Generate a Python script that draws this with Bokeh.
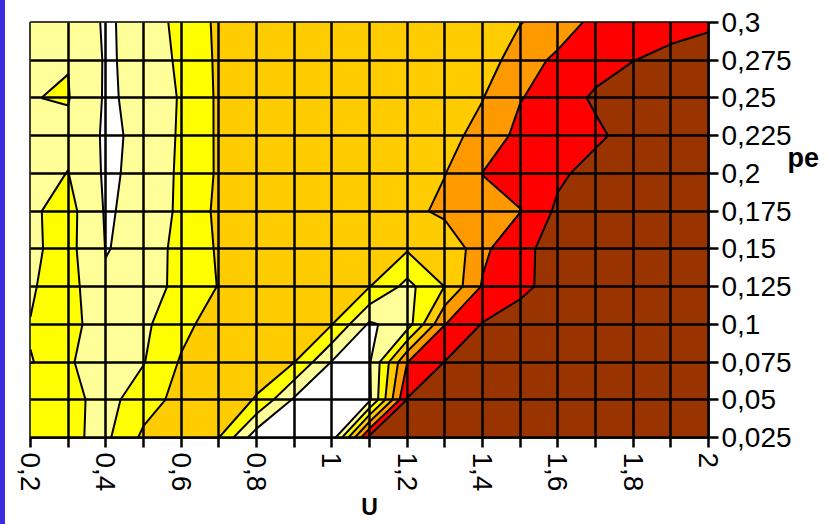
import numpy as np
from bokeh.plotting import figure
from bokeh.models import Range1d, FixedTicker, LinearAxis, Div
from bokeh.layouts import row
from bokeh.embed import file_html
from bokeh.resources import INLINE

# ---- data -------------------------------------------------------------
u_values = [0.2, 0.3, 0.4, 0.5, 0.6, 0.7, 0.8, 0.9, 1.0, 1.1, 1.2, 1.3, 1.4,
            1.5, 1.6, 1.7, 1.8, 1.9, 2.0]
pe_values = [0.025, 0.05, 0.075, 0.1, 0.125, 0.15, 0.175, 0.2, 0.225, 0.25,
             0.275, 0.3]

# surface values, one list per pe row (u = 0.2 ... 2.0)
z_pe_0025 = [2.4, 2.15, 1.8, 3.2, 3.4, 3.02, 0.4, 0.3, 0.4, 6.3, 6.8, 7.0, 7.2, 7.3, 7.4, 7.5, 7.5, 7.6, 7.6]
z_pe_0050 = [2.3, 2.3, 1.65, 2.55, 3.33, 3.4, 2.95, 0.85, 0.5, 0.8, 6.05, 6.5, 6.9, 7.1, 7.3, 7.4, 7.5, 7.5, 7.6]
z_pe_0075 = [1.99, 2.1, 1.51, 1.95, 3.1, 3.5, 3.3, 3.03, 0.95, 0.9, 4.98, 6.02, 6.6, 6.9, 7.1, 7.3, 7.4, 7.5, 7.5]
z_pe_0100 = [2.02, 2.3, 1.51, 1.8, 2.7, 3.5, 3.5, 3.3, 3.03, 0.85, 1.5, 4.98, 6.05, 6.6, 6.9, 7.1, 7.3, 7.4, 7.5]
z_pe_0125 = [1.92, 2.4, 1.1, 1.75, 2.15, 3.05, 3.5, 3.4, 3.2, 3.03, 1.7, 3.02, 5.1, 5.7, 6.5, 6.9, 7.1, 7.3, 7.4]
z_pe_0150 = [1.85, 2.3, 0.97, 1.21, 2.44, 3.09, 3.5, 3.5, 3.4, 3.4, 3.1, 3.02, 4.77, 5.8, 6.3, 6.8, 7.0, 7.2, 7.3]
z_pe_0175 = [1.85, 2.35, 0.9, 1.28, 2.21, 3.22, 3.5, 3.6, 3.6, 3.6, 3.6, 4.3, 4.6, 4.97, 6.2, 6.7, 7.0, 7.1, 7.2]
z_pe_0200 = [1.7, 2.02, 0.85, 1.23, 2.19, 3.13, 3.5, 3.6, 3.6, 3.6, 3.7, 3.97, 5.02, 5.4, 5.8, 6.4, 6.8, 7.0, 7.1]
z_pe_0225 = [1.6, 1.8, 0.85, 1.17, 2.15, 3.14, 3.5, 3.5, 3.5, 3.5, 3.6, 3.7, 4.3, 5.3, 5.6, 5.8, 6.4, 6.8, 7.0]
z_pe_0250 = [1.98, 2.05, 0.88, 1.23, 2.1, 3.15, 3.5, 3.5, 3.5, 3.5, 3.5, 3.6, 3.97, 4.95, 5.5, 6.15, 6.6, 6.9, 7.0]
z_pe_0275 = [1.7, 1.97, 0.9, 1.24, 2.23, 3.16, 3.5, 3.5, 3.5, 3.5, 3.5, 3.5, 3.7, 4.3, 5.3, 5.6, 5.98, 6.3, 6.57]
z_pe_0300 = [1.6, 1.4, 0.93, 1.19, 2.42, 3.16, 3.4, 3.4, 3.4, 3.4, 3.4, 3.4, 3.5, 3.98, 4.23, 5.4, 5.5, 5.6, 5.8]

band_levels = [0, 1, 2, 3, 4, 5, 6, 8]
band_colors = ["#FFFFFF", "#FFFF99", "#FFFF00", "#FFCC00", "#FF9900", "#FF0000", "#993300"]

x_ticks = u_values
x_tick_labels = ["0,2", "", "0,4", "", "0,6", "", "0,8", "", "1", "", "1,2", "",
                 "1,4", "", "1,6", "", "1,8", "", "2"]
y_ticks = pe_values
y_tick_labels = ["0,025", "0,05", "0,075", "0,1", "0,125", "0,15", "0,175",
                 "0,2", "0,225", "0,25", "0,275", "0,3"]

x_title = "U"
y_title = "pe"

# ---- figure -----------------------------------------------------------
Z = np.array([z_pe_0025, z_pe_0050, z_pe_0075, z_pe_0100, z_pe_0125, z_pe_0150,
              z_pe_0175, z_pe_0200, z_pe_0225, z_pe_0250, z_pe_0275, z_pe_0300])

FONT = "Liberation Sans"
W, H = 830, 524
L, R, T, B = 25, 127, 22, 87

p = figure(width=W, height=H, output_backend="svg", toolbar_location=None,
           x_range=Range1d(u_values[0], u_values[-1]),
           y_range=Range1d(pe_values[0], pe_values[-1]),
           y_axis_location="right",
           min_border_left=L, min_border_right=R, min_border_top=T, min_border_bottom=B)
p.background_fill_color = "white"
p.border_fill_color = "white"
p.outline_line_color = "black"
p.outline_line_width = 2.5

p.contour(x=u_values, y=pe_values, z=Z, levels=band_levels,
          fill_color=band_colors, line_color="black", line_width=2.0)

for ax, ticks, labels in ((p.xaxis[0], x_ticks, x_tick_labels),
                          (p.yaxis[0], y_ticks, y_tick_labels)):
    ax.ticker = FixedTicker(ticks=ticks)
    ax.major_label_overrides = {t: s for t, s in zip(ticks, labels)}
    ax.minor_tick_line_color = None
    ax.major_tick_in = 0
    ax.major_tick_out = 10
    ax.major_tick_line_width = 2.5
    ax.major_tick_line_color = "black"
    ax.axis_line_width = 2.5
    ax.axis_line_color = "black"
    ax.major_label_text_font = FONT
    ax.major_label_text_font_size = "28px"
    ax.major_label_text_color = "black"

p.xaxis.major_label_orientation = "vertical"
p.xaxis.major_label_standoff = 5
p.yaxis.major_label_standoff = 3

# x title as axis label
p.xaxis.axis_label = x_title
p.xaxis.axis_label_standoff = 0
p.xaxis.axis_label_text_font = FONT
p.xaxis.axis_label_text_font_size = "23px"
p.xaxis.axis_label_text_font_style = "bold"
p.xaxis.axis_label_text_color = "black"

p.xgrid.ticker = FixedTicker(ticks=x_ticks)
p.ygrid.ticker = FixedTicker(ticks=y_ticks)
for g in (p.xgrid[0], p.ygrid[0]):
    g.grid_line_color = "black"
    g.grid_line_width = 2.5
    g.grid_line_alpha = 1.0
    g.level = "overlay"

# y title "pe": a second right-hand axis carrying one bold label, placed
# at page pixel y = 157 (frame spans page y 22..437)
fy0, fy1 = 22, 437
pe_title_pos = pe_values[0] + (fy1 - 157) / (fy1 - fy0) * (pe_values[-1] - pe_values[0])
title_axis = LinearAxis(ticker=FixedTicker(ticks=[pe_title_pos]),
                        major_label_overrides={pe_title_pos: y_title})
title_axis.axis_line_color = None
title_axis.major_tick_line_color = None
title_axis.minor_tick_line_color = None
title_axis.major_tick_in = 0
title_axis.major_tick_out = 0
title_axis.major_label_standoff = -7
title_axis.major_label_text_font = FONT
title_axis.major_label_text_font_size = "27px"
title_axis.major_label_text_font_style = "bold"
title_axis.major_label_text_color = "black"
p.add_layout(title_axis, "right")

bar = Div(text="", width=5, height=H,
          styles={"background-color": "#3d2ce0", "margin": "0", "padding": "0"})

layout = row(bar, p, spacing=0)
open("out.html", "w").write(file_html(layout, INLINE))
